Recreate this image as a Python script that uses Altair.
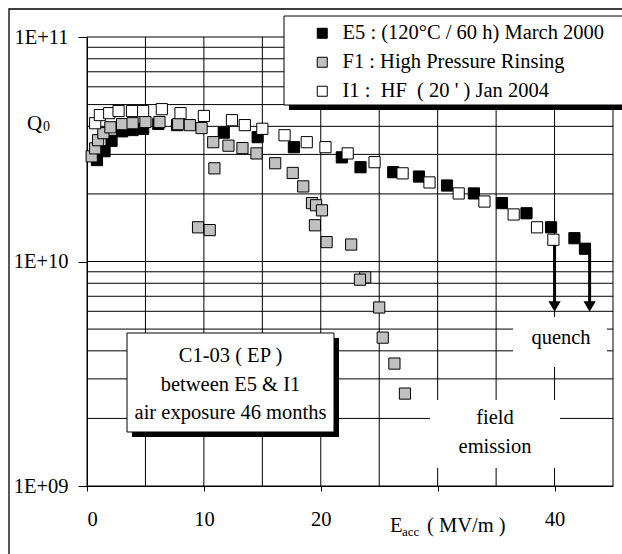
import altair as alt
import pandas as pd

# ---------------- data ----------------
series_labels = ["E5 : (120°C / 60 h) March 2000",
                 "F1 : High Pressure Rinsing",
                 "I1 :\u00a0 HF\u00a0 ( 20 ' ) Jan 2004"]
series_colors = ["#000000", "#c0c0c0", "#ffffff"]

e5_E = [0.85, 1.5, 2.1, 3.0, 3.9, 4.8, 6.1, 7.7, 11.7, 14.6, 17.7, 21.8, 23.4,
        26.2, 28.4, 30.8, 33.1, 35.5, 37.6, 39.7, 41.7, 42.6]
e5_Q = [2.83e10, 3.1e10, 3.45e10, 3.8e10, 3.85e10, 3.9e10, 4.1e10, 4.05e10, 3.75e10,
        3.58e10, 3.23e10, 2.91e10, 2.63e10, 2.50e10, 2.39e10, 2.18e10, 2.01e10,
        1.82e10, 1.64e10, 1.42e10, 1.27e10, 1.14e10]

f1_E = [0.4, 0.7, 0.95, 1.4, 2.0, 3.0, 3.9, 5.0, 6.2, 7.8, 8.8, 9.8, 10.8, 12.1, 13.3,
        14.5, 16.1, 17.6, 18.5, 19.25, 19.6, 20.1, 19.5, 20.5, 22.6, 23.8, 23.35, 25.0,
        25.3, 26.3, 27.2, 9.5, 10.5, 10.9]
f1_Q = [2.94e10, 3.19e10, 3.47e10, 3.73e10, 3.96e10, 4.09e10, 4.13e10, 4.18e10, 4.18e10,
        4.09e10, 4.05e10, 3.93e10, 3.40e10, 3.28e10, 3.2e10, 3.03e10, 2.74e10, 2.48e10,
        2.16e10, 1.82e10, 1.78e10, 1.69e10, 1.45e10, 1.22e10, 1.19e10, 8.5e9, 8.3e9,
        6.24e9, 4.58e9, 3.51e9, 2.58e9, 1.42e10, 1.38e10, 2.6e10]

i1_E = [0.7, 1.1, 1.9, 2.7, 3.85, 4.8, 6.4, 8.0, 10.0, 12.4, 13.5, 15.0, 16.9, 18.8,
        20.4, 22.3, 24.6, 27.0, 29.3, 31.8, 34.0, 36.5, 38.5, 39.9]
i1_Q = [4.13e10, 4.49e10, 4.58e10, 4.68e10, 4.68e10, 4.68e10, 4.77e10, 4.58e10, 4.45e10,
        4.26e10, 4.05e10, 3.9e10, 3.65e10, 3.40e10, 3.23e10, 3.03e10, 2.77e10, 2.47e10,
        2.25e10, 2.01e10, 1.85e10, 1.62e10, 1.42e10, 1.25e10]

# quench arrows
arrow_E = [40.0, 43.0]
arrow_from = [1.25e10, 1.14e10]
arrow_to = [6.3e9, 6.3e9]

# grid / ticks
grid_E = [0, 5, 10, 15, 20, 25, 30, 35, 40, 45]
grid_Q = [1e9, 2e9, 3e9, 4e9, 5e9, 6e9, 7e9, 8e9, 9e9,
          1e10, 2e10, 3e10, 4e10, 5e10, 6e10, 7e10, 8e10, 9e10, 1e11]
x_ticks = [0, 10, 20, 30, 40]
x_tick_labels = ["0", "10", "20", "", "40"]
y_ticks = [1e9, 1e10, 1e11]
y_tick_labels = ["1E+09", "1E+10", "1E+11"]

box_lines = ["C1-03 ( EP )", "between E5 & I1", "air exposure 46 months"]
fe_lines = ["field", "emission"]
quench_label = "quench"

# ---------------- helpers ----------------
FONT = "Liberation Serif, Times New Roman, serif"
OX, OY = 87, 37  # plot origin in page pixels
W, H = 526, 449


def px(v):
    return alt.value(v - OX)


def py(v):
    return alt.value(v - OY)


def label_expr(vals, labs):
    expr = "''"
    for v, l in zip(vals, labs):
        expr = f"datum.value == {v} ? '{l}' : ({expr})"
    return expr


one = pd.DataFrame({"k": [0]})
xscale = alt.Scale(domain=[0, 45], nice=False, zero=False)
yscale = alt.Scale(type="log", domain=[1e9, 1e11], nice=False)

x_axis = alt.Axis(values=x_ticks, labelExpr=label_expr(x_ticks, x_tick_labels),
                  grid=False, tickSize=5, tickColor="black", domainColor="black",
                  labelFont=FONT, labelFontSize=20.5, labelColor="black",
                  labelPadding=18, title=None)
y_axis = alt.Axis(values=y_ticks, labelExpr=label_expr(y_ticks, y_tick_labels),
                  grid=False, tickSize=9, tickColor="black", domainColor="black",
                  labelFont=FONT, labelFontSize=20.5, labelColor="black",
                  labelPadding=10, title=None)

rows = []
for lab, es, qs in [(series_labels[0], e5_E, e5_Q),
                    (series_labels[1], f1_E, f1_Q),
                    (series_labels[2], i1_E, i1_Q)]:
    for e, q in zip(es, qs):
        rows.append({"series": lab, "E": e, "Q": q})
df = pd.DataFrame(rows)
df["o"] = range(len(df))


def rect(x1, x2, y1, y2, fill, stroke=None):
    kw = dict(fill=fill)
    if stroke:
        kw.update(stroke=stroke, strokeWidth=1)
    else:
        kw.update(strokeWidth=0)
    return alt.Chart(one).mark_rect(**kw).encode(
        x=px(x1), x2=px(x2), y=py(y1), y2=py(y2))


def text(s, x, y, size=20.5, align="center", baseline="middle"):
    return alt.Chart(one).mark_text(text=s, font=FONT, fontSize=size, color="black",
                                    align=align, baseline=baseline).encode(
        x=px(x), y=py(y))


# outer frame
frame = alt.Chart(one).mark_rect(fill=None, stroke="black", strokeWidth=1.3).encode(
    x=px(9), x2=px(640), y=py(9), y2=py(600))

vgrid = alt.Chart(pd.DataFrame({"E": grid_E})).mark_rule(color="black", strokeWidth=1).encode(
    x=alt.X("E:Q", scale=xscale, axis=x_axis))
hgrid = alt.Chart(pd.DataFrame({"Q": grid_Q})).mark_rule(color="black", strokeWidth=1).encode(
    y=alt.Y("Q:Q", scale=yscale, axis=y_axis))

boxes = [
    rect(132, 339, 338, 437, "black"),
    rect(127, 334, 333, 432, "white", "black"),
    rect(430, 560, 400, 468, "white"),
    rect(513, 607, 317, 367, "white"),
]

adf = pd.DataFrame({"E": arrow_E, "from": arrow_from, "to": arrow_to})
arrows = alt.Chart(adf).mark_rule(color="black", strokeWidth=3).encode(
    x=alt.X("E:Q", scale=xscale), y=alt.Y("from:Q", scale=yscale), y2="to:Q")
heads = alt.Chart(adf).mark_point(shape="triangle-down", filled=True, color="black",
                                  size=150, opacity=1).encode(
    x=alt.X("E:Q", scale=xscale), y=alt.Y("to:Q", scale=yscale))

points = alt.Chart(df).mark_square(size=125, filled=True, stroke="black",
                                   strokeWidth=1, opacity=1).encode(
    x=alt.X("E:Q", scale=xscale),
    y=alt.Y("Q:Q", scale=yscale),
    fill=alt.Fill("series:N",
                  scale=alt.Scale(domain=series_labels, range=series_colors),
                  legend=alt.Legend(title=None, orient="none", legendX=225, legendY=-14,
                                    symbolType="square", symbolSize=100,
                                    symbolStrokeColor="black", symbolStrokeWidth=1,
                                    symbolOpacity=1,
                                    labelFont=FONT, labelFontSize=20.5, labelColor="black",
                                    labelOffset=10, labelLimit=500, rowPadding=8,
                                    padding=0)),
    order=alt.Order("o:Q"))

legend_box = [
    rect(289, 645, 21, 110, "black"),
    rect(284, 640, 16, 105, "white", "black"),
]

texts = [
    text(box_lines[0], 230.5, 356),
    text(box_lines[1], 230.5, 385),
    text(box_lines[2], 230.5, 413),
    text(fe_lines[0], 495, 418),
    text(fe_lines[1], 495, 447),
    text(quench_label, 561, 338),
    text("Q", 27, 130, size=21, align="left", baseline="alphabetic"),
    text("0", 43, 131, size=14, align="left", baseline="alphabetic"),
    text("E", 390, 532, size=20.5, align="left", baseline="alphabetic"),
    text("acc", 402, 536, size=13, align="left", baseline="alphabetic"),
    text("( MV/m )", 427, 532, size=20.5, align="left", baseline="alphabetic"),
]

chart = alt.layer(frame, vgrid, hgrid, *boxes, arrows, heads, points, *legend_box,
                  *texts).properties(
    width=W, height=H,
    autosize=alt.AutoSizeParams(type="none"),
    padding={"left": OX, "top": OY, "right": 622 - OX - W, "bottom": 554 - OY - H},
    background="white",
).configure_view(stroke=None)

chart.save("out.html", embed_options={"renderer": "svg", "actions": False})
